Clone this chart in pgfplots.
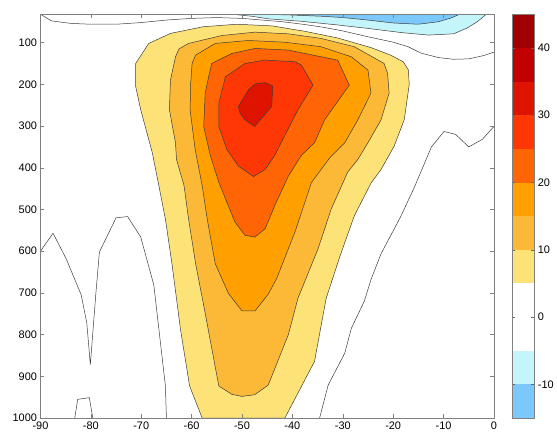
\documentclass[border=0pt]{standalone}
\usepackage{pgfplots}
\pgfplotsset{compat=1.18}
\usepackage{fontspec}
\setmainfont{Liberation Sans}

% band colours, from the lowest level to the highest
\definecolor{bm15}{RGB}{125,200,250}
\definecolor{bm10}{RGB}{196,245,250}
\definecolor{b05}{RGB}{253,226,120}
\definecolor{b10}{RGB}{252,185,55}
\definecolor{b15}{RGB}{255,160,0}
\definecolor{b20}{RGB}{255,100,5}
\definecolor{b25}{RGB}{255,55,5}
\definecolor{b30}{RGB}{222,20,0}
\definecolor{b35}{RGB}{195,0,0}
\definecolor{b40}{RGB}{160,0,0}
\definecolor{cline}{RGB}{60,60,60}
\definecolor{frame}{RGB}{128,128,128}

\pgfplotsset{
  panel/.style={
    scale only axis,
    anchor=south west,
    tick align=inside,
    axis on top,
    axis line style={draw=frame},
    every tick/.style={draw=frame},
    major tick length=4pt,
    /pgf/number format/assume math mode=true,
    /pgf/number format/1000 sep={},
    tick label style={font=\fontsize{11}{13}\selectfont},
  },
  level/.style={fill=#1, draw=cline, line width=0.5pt},
  zeroline/.style={draw=cline, line width=0.5pt},
}

\begin{document}
\begin{tikzpicture}[x=1pt,y=1pt]
\path (0,0) rectangle (557,435);

\begin{axis}[panel,
  at={(40.7pt,14.3pt)}, width=456.3pt, height=406.4pt,
  xmin=-90, xmax=0, ymin=32, ymax=1000, y dir=reverse,
  xtick={-90,-80,...,0}, ytick={100,200,...,1000},
  xtick pos=both, ytick pos=both,
  xticklabel pos=left, yticklabel pos=left,
]
% 5 contour
\addplot[level=b05] coordinates {
  (-57.9,1000) (-60.4,923) (-62.2,788) (-63.9,630) (-65.2,523) (-66.5,443)
  (-67.8,364) (-70.1,261) (-71.1,205) (-71.1,150) (-68.5,102) (-64.2,78)
  (-57.7,62) (-51,56) (-44,60) (-37.5,73) (-31,89) (-24.4,112) (-20.5,130)
  (-18,146) (-17,165) (-16.8,200) (-17.8,285) (-19.8,348) (-22.4,404)
  (-24.4,437) (-27.7,515) (-30.5,610) (-33.3,713) (-35.6,864) (-41.5,1000)
} -- cycle;
% 10 contour
\addplot[level=b10] coordinates {
  (-62.5,115) (-60.6,102) (-54,83) (-47.4,75) (-40.8,79) (-34.3,90)
  (-27.7,110) (-21.8,150) (-21.1,174) (-20.8,221) (-22.4,285) (-25,340)
  (-27,380) (-29,410) (-32.3,499) (-34.9,594) (-38.9,713) (-40.8,800)
  (-44.8,921) (-47.5,944) (-50,948) (-52,943) (-54.6,923) (-57.3,749)
  (-59.2,630) (-60.6,523) (-61.5,443) (-63,380) (-63.2,340) (-64.4,261)
  (-64.2,190) (-63.2,134)
} -- cycle;
% 15 contour
\addplot[level=b15] coordinates {
  (-59.2,130) (-55.3,102) (-48.8,95) (-41.5,99) (-34.3,110) (-28.3,134)
  (-25,166) (-24.4,221) (-27,285) (-29.6,340) (-32.5,375) (-36.2,435)
  (-39.5,554) (-43.1,665) (-44.8,703) (-47.4,743) (-50,743) (-52.7,701)
  (-55.3,630) (-56.9,523) (-57.9,443) (-59.3,356) (-60.3,261) (-60.2,200)
  (-59.9,150)
} -- cycle;
% 20 contour
\addplot[level=b20] coordinates {
  (-56,150) (-52,126) (-47.4,114) (-40.8,118) (-31,142) (-28.7,202)
  (-33.6,285) (-35.6,340) (-38.2,370) (-40.8,420) (-43.5,491) (-45.4,546)
  (-47.4,566) (-49.4,562) (-51.4,530) (-54.6,435) (-56.3,370) (-57.6,301)
  (-57.3,221) (-56.5,175)
} -- cycle;
% 25 contour
\addplot[level=b25] coordinates {
  (-53.3,182) (-49.4,150) (-45.4,142) (-39.5,146) (-38.2,154) (-35.9,202)
  (-38.9,261) (-43.5,370) (-45.4,404) (-47.7,421) (-50.7,396) (-53,356)
  (-54.6,301) (-54.6,245)
} -- cycle;
% 30 contour
\addplot[level=b30] coordinates {
  (-50.7,253) (-48.7,213) (-47.4,199) (-45.4,196) (-43.9,204) (-44.1,253)
  (-45.8,277) (-47.5,301) (-49.4,285) (-50.4,269)
} -- cycle;
% -5 contour
\addplot[level=bm10] coordinates {
  (-52,32) (-48,37) (-44.8,43) (-38.2,49) (-31.6,57) (-25,66) (-18.4,76)
  (-13,82) (-8,79) (-5.3,65) (-3.3,50) (-1.5,32)
} -- cycle;
% -10 contour
\addplot[level=bm15] coordinates {
  (-46,32) (-40,34) (-34,37) (-30,40) (-25,46) (-20,53) (-15,56) (-11,50)
  (-8.5,41) (-6.8,32)
} -- cycle;
% zero contours
\addplot[zeroline] coordinates {
  (-90,32) (-87.8,48) (-84,54) (-80,56) (-75,56) (-70,52) (-65,46) (-60,42)
  (-55,40) (-50,42) (-46,46) (-42,50) (-38,56) (-34,63) (-30,72) (-25,86)
  (-20,99) (-17,110) (-14.5,125) (-11,136) (-8,140) (-5,139) (-2,131) (0,123)
};
\addplot[zeroline] coordinates {
  (-90,600) (-87.5,557) (-84.9,618) (-81.9,705) (-80.8,772) (-80.1,872)
  (-79,701) (-78.3,602) (-75,520) (-72.7,517) (-70.1,566) (-67.5,681)
  (-65.2,923) (-65,1000)
};
\addplot[zeroline] coordinates {
  (-83.2,1000) (-82.6,955) (-80.3,951) (-79.6,1000)
};
\addplot[zeroline] coordinates {
  (0,301) (-2.3,332) (-5,350) (-7.6,320) (-9.9,313) (-12.4,350) (-15.8,447)
  (-18.5,517) (-22.4,606) (-24.4,668) (-25.7,719) (-28.3,785) (-29.6,844)
  (-32.9,921) (-34.6,1000)
};
\end{axis}

% colour scale
\begin{axis}[panel,
  at={(515pt,14.3pt)}, width=22.7pt, height=406.4pt,
  xmin=0, xmax=1, ymin=-15, ymax=45,
  xtick=\empty, ytick={-10,0,...,40},
  ytick pos=both, yticklabel pos=right,
  major tick length=3pt,
  every tick/.style={draw=black!60},
]
\addplot[fill=bm15, draw=none] coordinates {(0,-15) (1,-15) (1,-10) (0,-10)} -- cycle;
\addplot[fill=bm10, draw=none] coordinates {(0,-10) (1,-10) (1,-5) (0,-5)} -- cycle;
\addplot[fill=b05, draw=none] coordinates {(0,5) (1,5) (1,10) (0,10)} -- cycle;
\addplot[fill=b10, draw=none] coordinates {(0,10) (1,10) (1,15) (0,15)} -- cycle;
\addplot[fill=b15, draw=none] coordinates {(0,15) (1,15) (1,20) (0,20)} -- cycle;
\addplot[fill=b20, draw=none] coordinates {(0,20) (1,20) (1,25) (0,25)} -- cycle;
\addplot[fill=b25, draw=none] coordinates {(0,25) (1,25) (1,30) (0,30)} -- cycle;
\addplot[fill=b30, draw=none] coordinates {(0,30) (1,30) (1,35) (0,35)} -- cycle;
\addplot[fill=b35, draw=none] coordinates {(0,35) (1,35) (1,40) (0,40)} -- cycle;
\addplot[fill=b40, draw=none] coordinates {(0,40) (1,40) (1,45) (0,45)} -- cycle;
\end{axis}
\end{tikzpicture}
\end{document}
